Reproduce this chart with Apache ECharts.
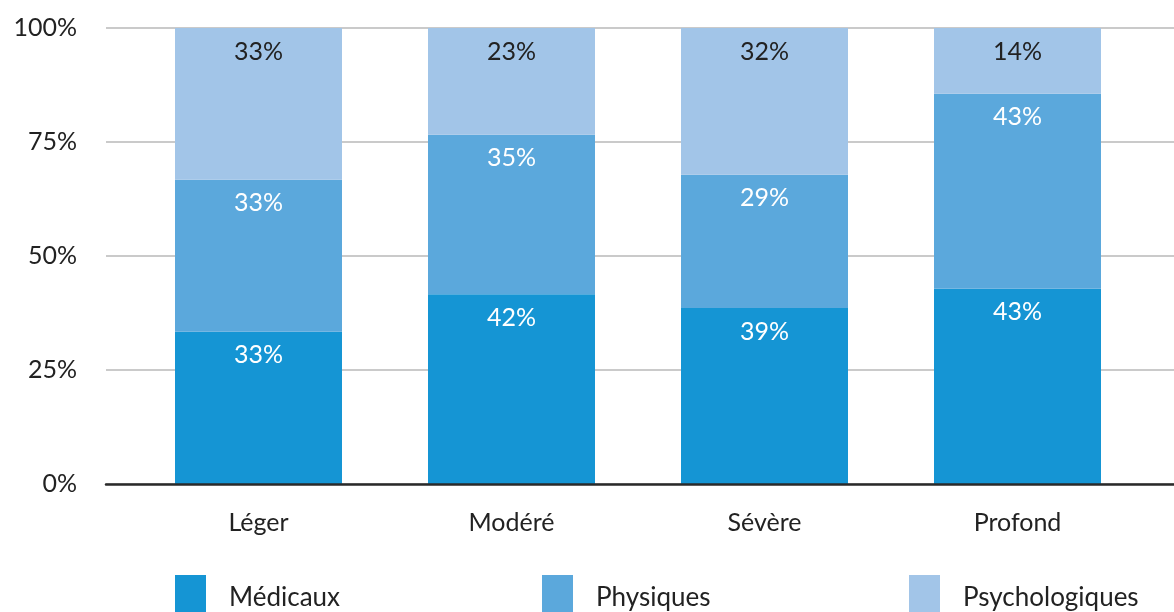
<!DOCTYPE html>
<html><head><meta charset="utf-8">
<script src="https://cdn.jsdelivr.net/npm/echarts@6/dist/echarts.min.js"></script>
<style>html,body{margin:0;padding:0;background:#fff}#c{width:1174px;height:612px}</style>
</head><body><div id="c"></div>
<script>
const categories = ['Léger', 'Modéré', 'Sévère', 'Profond'];
const seriesNames = ['Médicaux', 'Physiques', 'Psychologiques'];
const medicaux = [33.4, 41.6, 38.6, 42.8];
const physiques = [33.3, 35.0, 29.2, 42.8];
const psychologiques = [33.3, 23.4, 32.2, 14.4];
const yTicks = [0, 25, 50, 75, 100];
const colors = ['#1595d4', '#5ba8dc', '#a2c5e8'];
const FONT = 'Lato';

const chart = echarts.init(document.getElementById('c'), null, {renderer: 'canvas'});
const values = [medicaux, physiques, psychologiques];
const labelColors = ['#ffffff', '#ffffff', '#222222'];
const legendLefts = [175, 542, 909];

chart.setOption({
  animation: false,
  textStyle: {fontFamily: FONT},
  grid: [
    {left: 106, right: 0, top: 28, bottom: 128},
    {left: 132, right: 30, top: 28, bottom: 128}
  ],
  legend: seriesNames.map((n, i) => ({
    data: [n], left: legendLefts[i], top: 575, padding: 0, itemWidth: 31, itemHeight: 46,
    icon: 'rect', selectedMode: false,
    textStyle: {fontSize: 26, color: '#222', fontFamily: FONT, padding: [0, 0, 0, 18]}
  })),
  xAxis: [
    {gridIndex: 0, type: 'category', data: categories, z: 10,
     axisLine: {lineStyle: {color: '#2a2a2a', width: 2.5}}, axisTick: {show: false}, axisLabel: {show: false}},
    {gridIndex: 1, type: 'category', data: categories,
     axisLine: {show: false}, axisTick: {show: false},
     axisLabel: {fontSize: 25, color: '#222', margin: 26, fontFamily: FONT}}
  ],
  yAxis: [
    {gridIndex: 0, type: 'value', min: 0, max: 100, interval: 25,
     axisLine: {show: false}, axisTick: {show: false},
     splitLine: {lineStyle: {color: '#b9b9b9', width: 1.5}},
     axisLabel: {fontSize: 25, color: '#222', margin: 29, fontFamily: FONT,
       formatter: v => yTicks.includes(v) ? v + '%' : ''}},
    {gridIndex: 1, type: 'value', min: 0, max: 100, interval: 25, show: false}
  ],
  series: seriesNames.map((n, i) => ({
    name: n, type: 'bar', stack: 'total', xAxisIndex: 1, yAxisIndex: 1,
    barWidth: 167, data: values[i], itemStyle: {color: colors[i]},
    label: {show: true, position: 'insideTop', distance: 11, fontSize: 25,
      color: labelColors[i], fontFamily: FONT,
      formatter: p => Math.round(p.value) + '%'}
  }))
});
</script></body></html>
